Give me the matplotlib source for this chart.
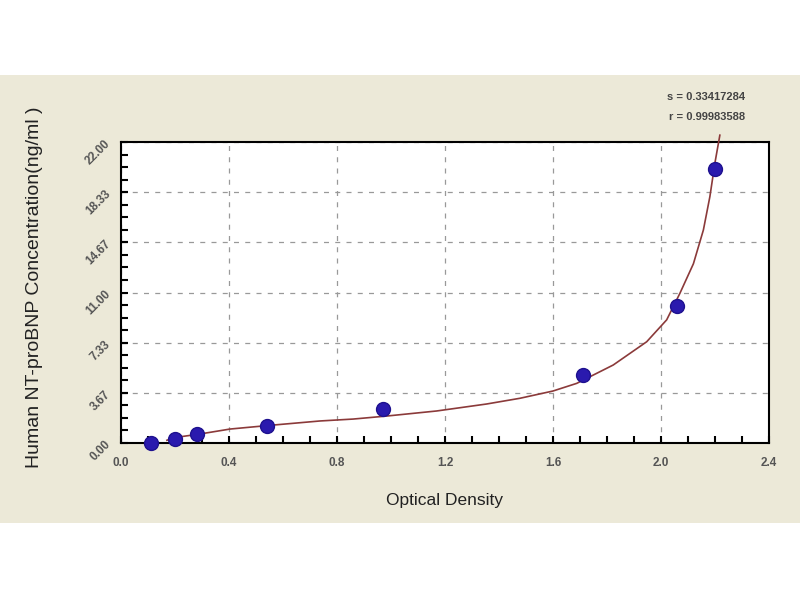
import matplotlib
matplotlib.use("Agg")
import matplotlib.pyplot as plt
from matplotlib.patches import Rectangle
from matplotlib.ticker import MultipleLocator, FixedLocator

# Standard points (OD vs concentration)
od_points = [0.11, 0.20, 0.28, 0.54, 0.97, 1.71, 2.06, 2.20]
conc_points = [0.0, 0.31, 0.63, 1.25, 2.5, 5.0, 10.0, 20.0]

# Fitted curve
curve_od = [0.17, 0.20, 0.293, 0.404, 0.54, 0.737, 0.86, 0.984, 1.169, 1.354,
            1.478, 1.60, 1.688, 1.823, 1.947, 2.021, 2.07, 2.12, 2.157, 2.181,
            2.20, 2.218]
curve_conc = [0.20, 0.40, 0.66, 1.02, 1.27, 1.61, 1.75, 1.97, 2.34, 2.85,
              3.27, 3.80, 4.36, 5.70, 7.40, 9.00, 10.94, 13.1, 15.57, 18.0,
              20.5, 22.5]

y_ticks = [0.0, 3.67, 7.33, 11.0, 14.67, 18.33, 22.0]
y_tick_labels = ["0.00", "3.67", "7.33", "11.00", "14.67", "18.33", "22.00"]
x_ticks = [0.0, 0.4, 0.8, 1.2, 1.6, 2.0, 2.4]
x_tick_labels = ["0.0", "0.4", "0.8", "1.2", "1.6", "2.0", "2.4"]
stats_lines = ["s = 0.33417284", "r = 0.99983588"]

plt.rcParams['font.family'] = ['Liberation Sans', 'DejaVu Sans']

fig = plt.figure(figsize=(8, 6), dpi=100)
fig.patch.set_facecolor("white")
fig.patches.append(Rectangle((0, 1 - 523 / 600), 1, 448 / 600,
                             transform=fig.transFigure, facecolor="#ECE9D8",
                             edgecolor="none", zorder=-5))

ax = fig.add_axes([121 / 800, 1 - 443 / 600, 648 / 800, 301 / 600])
ax.set_zorder(2)
ax.set_facecolor("white")
ax.set_xlim(0, 2.4)
ax.set_ylim(0, 22)

ax.plot(curve_od, curve_conc, color="#8B3A3A", lw=1.2, zorder=3, clip_on=False)
ax.plot(od_points, conc_points, "o", color="#2A1AAE", markersize=10,
        markeredgecolor="#1E118F", zorder=4, clip_on=False)

ax.xaxis.set_major_locator(FixedLocator(x_ticks))
ax.xaxis.set_minor_locator(MultipleLocator(0.1))
ax.set_xticks(x_ticks)
ax.set_xticklabels(x_tick_labels)
ax.yaxis.set_major_locator(FixedLocator(y_ticks))
ax.set_yticks(y_ticks)
ax.set_yticklabels(y_tick_labels, rotation=45)
ax.yaxis.set_minor_locator(FixedLocator([i * 22 / 24 for i in range(25)]))

ax.tick_params(axis="both", which="both", direction="in", length=5, width=1.5,
               color="black", labelsize=8.5, labelcolor="#555555")
ax.tick_params(axis="y", which="both", right=False, pad=6)
ax.tick_params(axis="x", which="both", top=False, pad=10)
for lbl in ax.get_xticklabels() + ax.get_yticklabels():
    lbl.set_fontweight("bold")

ax.grid(True, which="major", color="#999999", linestyle=(0, (4, 5)), lw=0.9)
for sp in ax.spines.values():
    sp.set_linewidth(1.5)
    sp.set_color("black")

fig.text(445 / 800, 1 - 501 / 600, "Optical Density", ha="center", va="center",
         fontsize=12.5, color="#222222")
fig.text(35 / 800, 1 - 287 / 600, "Human NT-proBNP Concentration(ng/ml )",
         ha="center", va="center", rotation=90, fontsize=14, color="#222222")

fig.text(745 / 800, 1 - 97 / 600, stats_lines[0], ha="right", va="center",
         fontsize=8, fontweight="bold", color="#444444")
fig.text(745 / 800, 1 - 117 / 600, stats_lines[1], ha="right", va="center",
         fontsize=8, fontweight="bold", color="#444444")

fig.savefig("out.png", dpi=100, facecolor=fig.get_facecolor())
